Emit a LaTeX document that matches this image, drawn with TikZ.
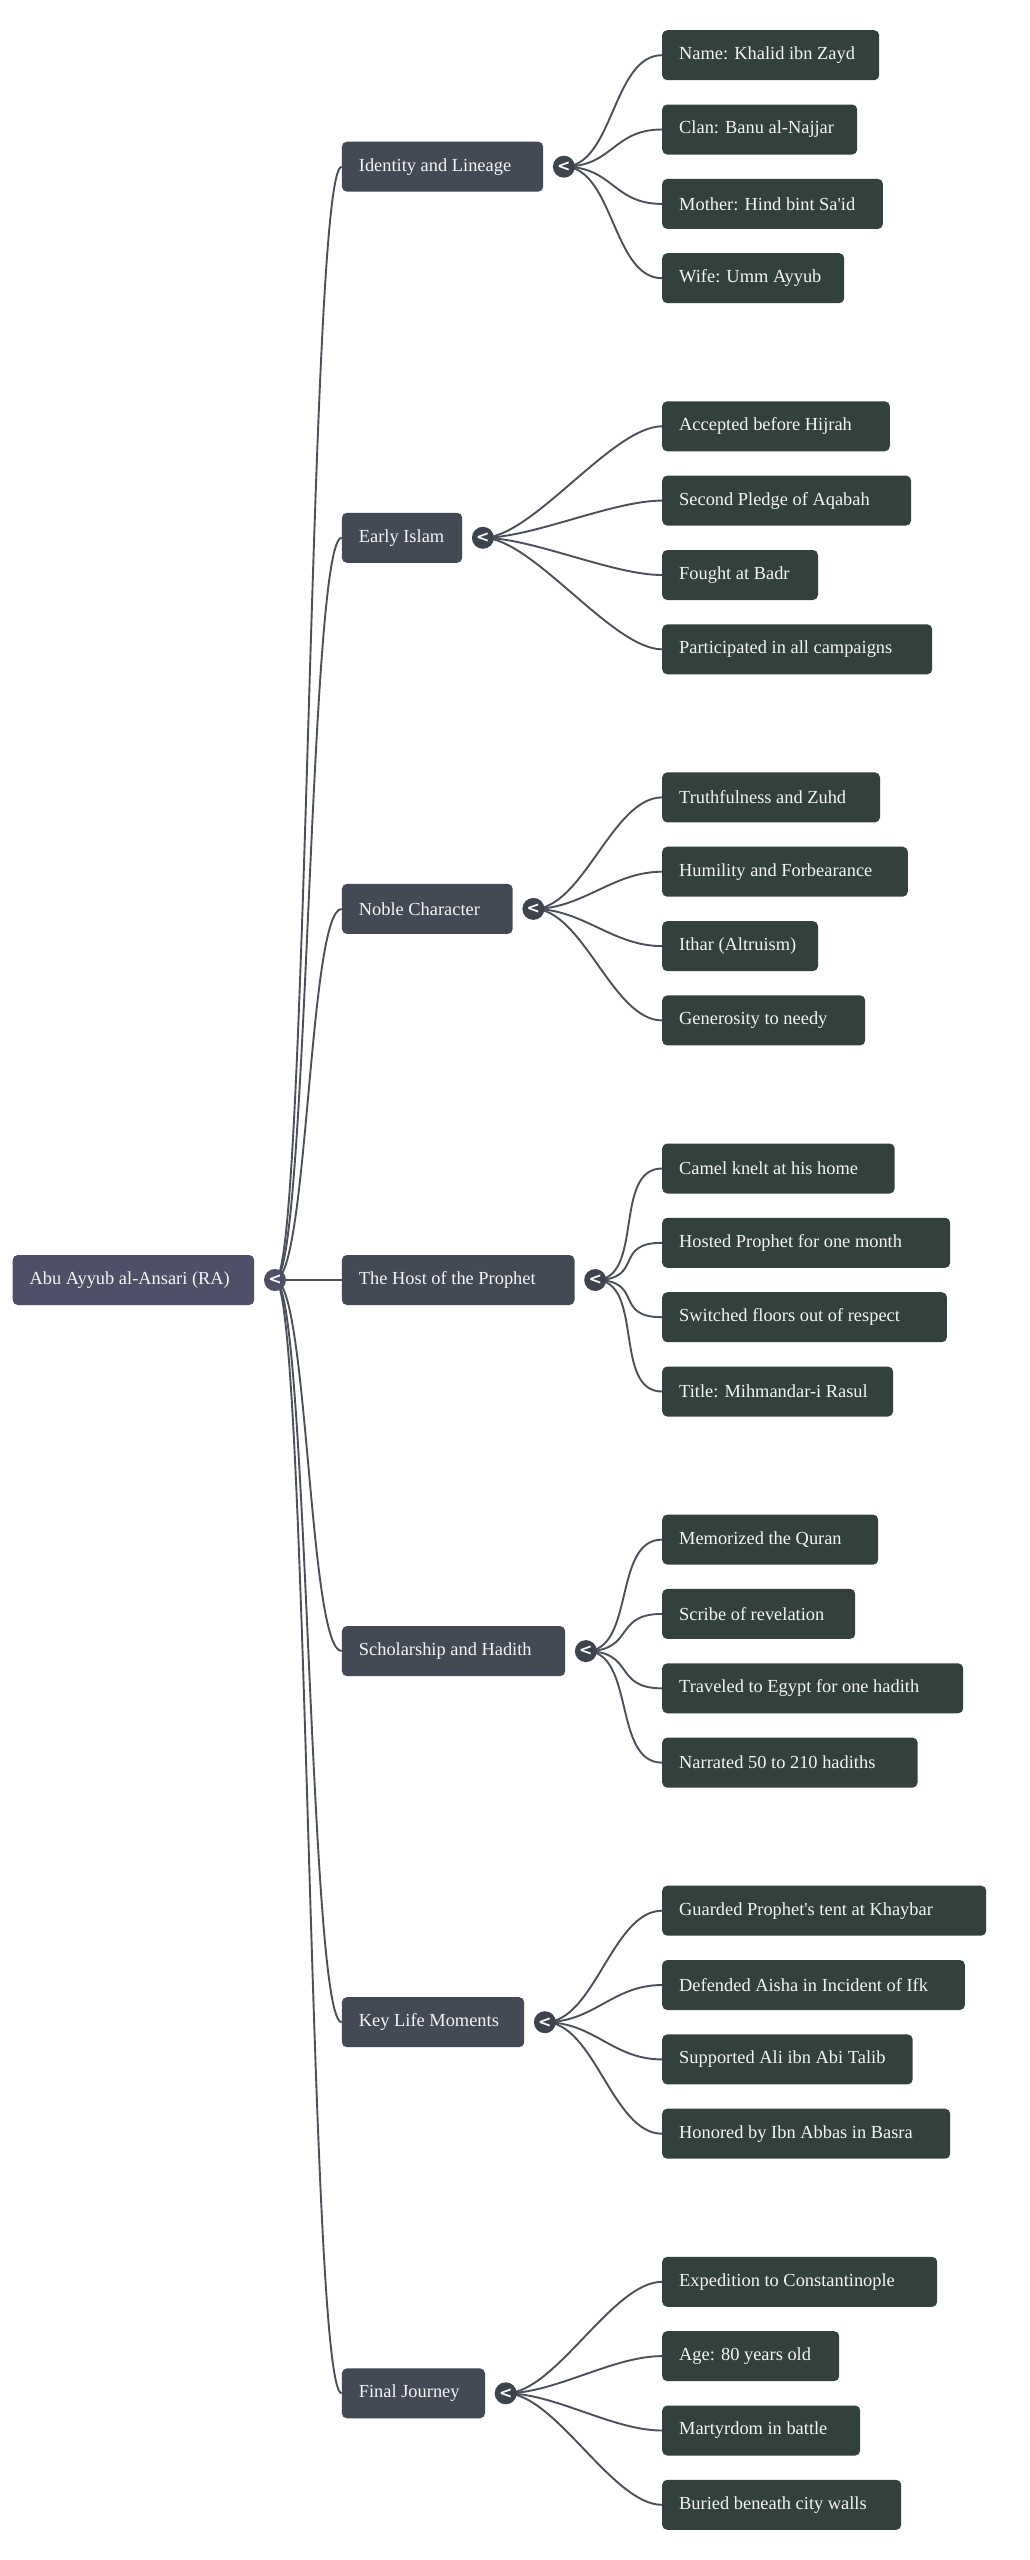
\documentclass[tikz,border=0pt]{standalone}
\usepackage{fontspec}
\setmainfont{Liberation Serif}[Ligatures=TeXOff]
\newfontfamily\chevfont{DejaVu Sans}
\usetikzlibrary{backgrounds}
\definecolor{leaffill}{HTML}{33413E}
\definecolor{branchfill}{HTML}{444A55}
\definecolor{rootfill}{HTML}{4F5067}
\definecolor{togglefill}{HTML}{3E444E}
\definecolor{linkcol}{HTML}{4A505C}
\definecolor{txtcol}{HTML}{F4F4F4}
\tikzset{
  boxbase/.style={rounded corners=5pt, minimum height=50pt, inner xsep=0pt, inner ysep=0pt,
    anchor=west, text=txtcol, font=\fontsize{18.4}{22}\selectfont},
  leafbox/.style={boxbase, fill=leaffill},
  branchbox/.style={boxbase, fill=branchfill},
  rootbox/.style={boxbase, fill=rootfill},
  toggle/.style={circle, minimum size=22pt, inner sep=0pt, fill=#1, text=white,
    font=\chevfont\bfseries\fontsize{16}{16}\selectfont},
  link/.style={draw=linkcol, line width=1.9pt},
}
\newcommand\mmnode[6]{\node[#1] (#2) at (#3,#4) {\makebox[#5pt][l]{\hspace{17pt}#6}};}
\newcommand\leafrow[5]{% name, branch y, offset, width, text
  \mmnode{leafbox}{#1}{662}{#2+#3}{#4}{#5}}
\begin{document}
\begin{tikzpicture}[x=1pt,y=-1pt]
\useasboundingbox (0,0) rectangle (1030,2560);
% root
\mmnode{rootbox}{r}{12.5}{1280}{241.5}{Abu Ayyub al-Ansari (RA)}
\node[toggle=rootfill] (c0) at (275,1280) {<};
% branches
\mmnode{branchbox}{b1}{341.7}{166.7}{201.3}{Identity and Lineage}
\mmnode{branchbox}{b2}{341.7}{537.8}{120.3}{Early Islam}
\mmnode{branchbox}{b3}{341.7}{908.9}{170.8}{Noble Character}
\mmnode{branchbox}{b4}{341.7}{1280}{232.6}{The Host of the Prophet}
\mmnode{branchbox}{b5}{341.7}{1651.1}{223.3}{Scholarship and Hadith}
\mmnode{branchbox}{b6}{341.7}{2022.2}{182.3}{Key Life Moments}
\mmnode{branchbox}{b7}{341.7}{2393.3}{143.1}{Final Journey}
\foreach \i in {1,...,7}{
  \node[toggle=togglefill] (c\i) at ([xshift=20.5pt]b\i.east) {<};
}
% leaves group 1
\leafrow{l11}{166.7}{-111.5}{217}{Name: Khalid ibn Zayd}
\leafrow{l12}{166.7}{-37.2}{195}{Clan: Banu al-Najjar}
\leafrow{l13}{166.7}{37.2}{220.7}{Mother: Hind bint Sa'id}
\leafrow{l14}{166.7}{111.5}{182}{Wife: Umm Ayyub}
% group 2
\leafrow{l21}{537.8}{-111.5}{227.6}{Accepted before Hijrah}
\leafrow{l22}{537.8}{-37.2}{248.8}{Second Pledge of Aqabah}
\leafrow{l23}{537.8}{37.2}{155.8}{Fought at Badr}
\leafrow{l24}{537.8}{111.5}{270}{Participated in all campaigns}
% group 3
\leafrow{l31}{908.9}{-111.5}{217.8}{Truthfulness and Zuhd}
\leafrow{l32}{908.9}{-37.2}{245.6}{Humility and Forbearance}
\leafrow{l33}{908.9}{37.2}{155.8}{Ithar (Altruism)}
\leafrow{l34}{908.9}{111.5}{203}{Generosity to needy}
% group 4
\leafrow{l41}{1280}{-111.5}{232.5}{Camel knelt at his home}
\leafrow{l42}{1280}{-37.2}{288}{Hosted Prophet for one month}
\leafrow{l43}{1280}{37.2}{284.7}{Switched floors out of respect}
\leafrow{l44}{1280}{111.5}{230.9}{Title: Mihmandar-i Rasul}
% group 5
\leafrow{l51}{1651.1}{-111.5}{216}{Memorized the Quran}
\leafrow{l52}{1651.1}{-37.2}{193}{Scribe of revelation}
\leafrow{l53}{1651.1}{37.2}{301}{Traveled to Egypt for one hadith}
\leafrow{l54}{1651.1}{111.5}{255.4}{Narrated 50 to 210 hadiths}
% group 6
\leafrow{l61}{2022.2}{-111.5}{324}{Guarded Prophet's tent at Khaybar}
\leafrow{l62}{2022.2}{-37.2}{302.7}{Defended Aisha in Incident of Ifk}
\leafrow{l63}{2022.2}{37.2}{250.5}{Supported Ali ibn Abi Talib}
\leafrow{l64}{2022.2}{111.5}{288}{Honored by Ibn Abbas in Basra}
% group 7
\leafrow{l71}{2393.3}{-111.5}{275}{Expedition to Constantinople}
\leafrow{l72}{2393.3}{-37.2}{177}{Age: 80 years old}
\leafrow{l73}{2393.3}{37.2}{198}{Martyrdom in battle}
\leafrow{l74}{2393.3}{111.5}{239}{Buried beneath city walls}
% connectors
\begin{pgfonlayer}{background}
\foreach \i in {1,...,7}{
  \draw[link] (c0.center) .. controls +(33,0) and +(-33,0) .. (b\i.west);
  \foreach \j in {1,...,4}{
    \draw[link] (c\i.center) .. controls +(49.5,0) and +(-49.5,0) .. (l\i\j.west);
  }
}
\end{pgfonlayer}
\end{tikzpicture}
\end{document}
